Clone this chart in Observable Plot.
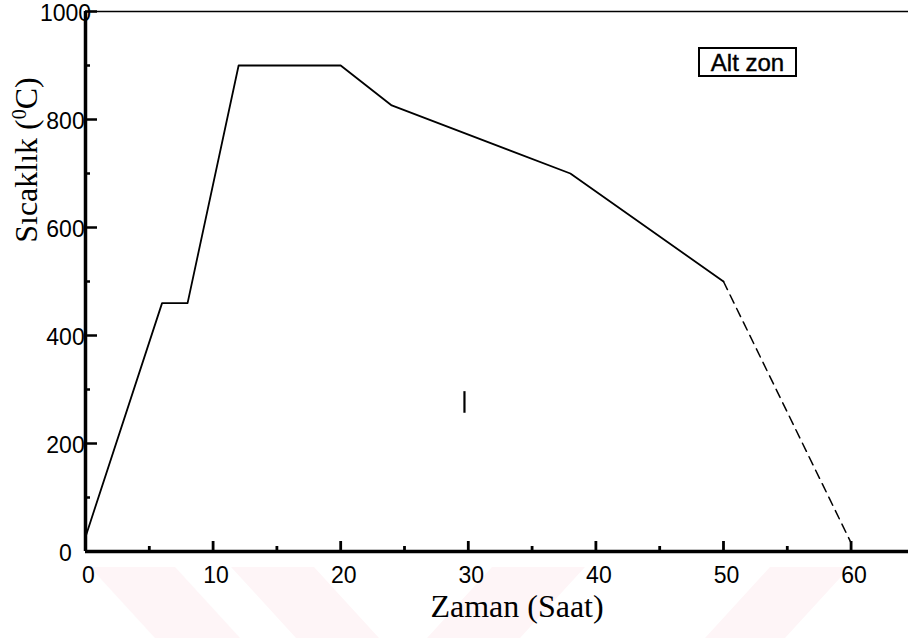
<!DOCTYPE html>
<html>
<head>
<meta charset="utf-8">
<script src="https://cdn.jsdelivr.net/npm/d3@7"></script>
<script src="https://cdn.jsdelivr.net/npm/@observablehq/plot@0.6"></script>
<style>
  body { margin: 0; background: #fff; }
  #wrap { position: relative; width: 908px; height: 638px; overflow: hidden; background: #fff; }
  #wrap svg { position: absolute; left: 0; top: 0; }
  #legend {
    position: absolute; left: 698px; top: 47px; width: 99px; height: 30px;
    box-sizing: border-box; border: 2px solid #000; padding-top: 2px;
    font-family: "Liberation Sans", Arial, sans-serif; font-size: 24px; line-height: 24px;
    text-align: center; color: #000; background: #fff;
    -webkit-text-stroke: 0.4px #000;
  }
</style>
</head>
<body>
<div id="wrap">
  <svg id="watermark" width="908" height="638" aria-hidden="true">
    <g fill="#fef5f7">
      <polygon points="90,567 175,567 240,638 155,638"/>
      <polygon points="231,567 314,567 379,638 296,638"/>
      <polygon points="492,567 585,567 520,638 427,638"/>
      <polygon points="770,567 850,567 785,638 705,638"/>
    </g>
  </svg>
  <div id="legend"></div>
</div>
<script>
// ---- data ----
const timeHours = [0, 6, 8, 12, 20, 24, 38, 50, 60];
const tempC     = [27, 460, 460, 900, 900, 826, 700, 500, 16];
const dashedFromIndex = 7; // segment 50 -> 60 h is dashed

const xMajorTicks = [0, 10, 20, 30, 40, 50, 60];
const xMinorTicks = [5, 15, 25, 35, 45, 55];
const yMajorTicks = [0, 200, 400, 600, 800, 1000];
const yMinorTicks = [100, 300, 500, 700, 900];

// stray scan mark in the plot area
const strayMarkX = [29.7];
const strayMarkY = [256, 296];

const xLabel = "Zaman (Saat)";
const yLabelParts = ["Sıcaklık (", "0", "C)"];
const legendText = "Alt zon";

// ---- build ----
const points = timeHours.map((t, i) => ({t, temp: tempC[i]}));
const solidPts = points.slice(0, dashedFromIndex + 1);
const dashedPts = points.slice(dashedFromIndex);

const W = 908, H = 638, mL = 85, mR = 0, mT = 11, mB = 87;
const frameW = W - mL - mR, frameH = H - mT - mB;

const chart = Plot.plot({
  width: W, height: H,
  marginLeft: mL, marginRight: mR, marginTop: mT, marginBottom: mB,
  x: {domain: [0, 64.5]},
  y: {domain: [0, 1000]},
  style: {fontFamily: "'Liberation Sans', Arial, sans-serif", fontSize: "23px", color: "#000", background: "transparent", overflow: "visible"},
  marks: [
    Plot.ruleY([1000], {stroke: "#000", strokeWidth: 1.5}),
    Plot.ruleX(xMajorTicks, {x: d => d, insetTop: frameH - 10, stroke: "#000", strokeWidth: 2.8}),
    Plot.ruleX(xMinorTicks, {x: d => d, insetTop: frameH - 5, stroke: "#000", strokeWidth: 2.8}),
    Plot.ruleY(yMajorTicks, {y: d => d, insetRight: frameW - 12, stroke: "#000", strokeWidth: 2.5}),
    Plot.ruleY(yMinorTicks, {y: d => d, insetRight: frameW - 5, stroke: "#000", strokeWidth: 2.5}),
    Plot.ruleX([0], {stroke: "#000", strokeWidth: 3.5}),
    Plot.ruleY([0], {stroke: "#000", strokeWidth: 3.5}),
    Plot.line(solidPts, {x: "t", y: "temp", stroke: "#000", strokeWidth: 1.8}),
    Plot.line(dashedPts, {x: "t", y: "temp", stroke: "#000", strokeWidth: 1.5, strokeDasharray: "9,6"}),
    Plot.ruleX(strayMarkX, {x: d => d, y1: strayMarkY[0], y2: strayMarkY[1], stroke: "#000", strokeWidth: 2.2}),
    Plot.axisX(xMajorTicks, {tickSize: 0, tickPadding: 15, dx: 3, label: null, tickFormat: d => String(d), fontSize: 23, fill: "#000", stroke: "#000", strokeWidth: 0.6}),
    Plot.axisY(yMajorTicks, {tickSize: 0, tickPadding: 20, dy: 2, textAnchor: "middle", label: null, tickFormat: d => String(d), fontSize: 23, fill: "#000", stroke: "#000", strokeWidth: 0.6})
  ]
});

const svg = d3.select(chart);
// x axis title
svg.append("text")
  .attr("x", 517).attr("y", 617)
  .attr("text-anchor", "middle")
  .attr("font-family", "'Liberation Serif', 'Times New Roman', serif")
  .attr("font-size", 32).attr("fill", "#000")
  .text(xLabel);
// y axis title with superscript
const yt = svg.append("text")
  .attr("transform", "translate(37,160) rotate(-90)")
  .attr("text-anchor", "middle")
  .attr("font-family", "'Liberation Serif', 'Times New Roman', serif")
  .attr("font-size", 32).attr("fill", "#000");
yt.append("tspan").text(yLabelParts[0]);
yt.append("tspan").attr("baseline-shift", "super").attr("font-size", 20).text(yLabelParts[1]);
yt.append("tspan").text(yLabelParts[2]);

document.getElementById("legend").textContent = legendText;
const wrap = document.getElementById("wrap");
wrap.insertBefore(chart, document.getElementById("legend"));
</script>
</body>
</html>
